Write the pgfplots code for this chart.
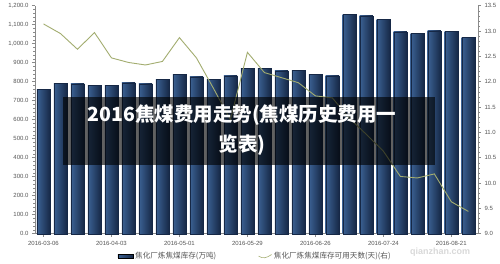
\documentclass[border=0pt]{standalone}
\usepackage{pgfplots}
\pgfplotsset{compat=1.18}
\usepackage{fontspec}
\setmainfont{Liberation Sans}
\newfontfamily\cjk{Noto Sans CJK SC}
\definecolor{barL}{HTML}{3B6193}
\definecolor{barR}{HTML}{162846}
\definecolor{linec}{HTML}{A3AD70}
\definecolor{axc}{HTML}{8A8A8A}
\definecolor{tkc}{HTML}{555555}
\newcommand\B[2]{\addplot[ybar, bar width=0.78, bar shift=0pt, draw=barR, line width=0.2pt, left color=barL, right color=barR, forget plot] coordinates {(#1,#2)};}
\begin{document}
\begin{tikzpicture}[x=1pt,y=1pt]
\useasboundingbox (0pt,0pt) rectangle (500pt,264pt);
\fill[white] (0pt,0pt) rectangle (500pt,264pt);
\begin{axis}[
  at={(35pt,30.3pt)}, anchor=south west,
  scale only axis, width=443pt, height=228pt,
  xmin=-0.5, xmax=25.57, ymin=0, ymax=1200,
  axis y line*=left, axis x line*=bottom,
  axis line style={axc, line width=0.6pt},
  xtick={0,4,...,24}, minor xtick={2,6,...,22},
  xticklabels={2016-03-06,2016-04-03,2016-05-01,2016-05-29,2016-06-26,2016-07-24,2016-08-21},
  ytick={0,100,...,1200}, minor y tick num=4,
  tick align=outside, major tick length=3pt, minor tick length=1.5pt,
  tick style={axc, line width=0.5pt},
  /pgf/number format/assume math mode=true,
  yticklabel style={/pgf/number format/.cd, fixed, fixed zerofill, precision=1, 1000 sep={,}},
  ticklabel style={font=\fontsize{6}{7}\selectfont, text=tkc},
  xticklabel style={yshift=-1pt},
  clip=false,
]
\B{0}{760} \B{1}{791} \B{2}{789} \B{3}{781} \B{4}{781} \B{5}{795} \B{6}{789}
\B{7}{812} \B{8}{840} \B{9}{825} \B{10}{812} \B{11}{830} \B{12}{872} \B{13}{870}
\B{14}{858} \B{15}{860} \B{16}{840} \B{17}{832} \B{18}{1156} \B{19}{1146}
\B{20}{1128} \B{21}{1063} \B{22}{1055} \B{23}{1068} \B{24}{1065} \B{25}{1035}
\end{axis}
\begin{axis}[
  at={(35pt,30.3pt)}, anchor=south west,
  scale only axis, width=443pt, height=228pt,
  xmin=-0.5, xmax=25.57, ymin=9, ymax=13.5,
  axis y line*=right, axis x line=none,
  axis line style={axc, line width=0.6pt},
  ytick={9,9.5,...,13.5}, minor y tick num=4,
  tick align=outside, major tick length=3pt, minor tick length=1.5pt,
  tick style={axc, line width=0.5pt},
  /pgf/number format/assume math mode=true,
  yticklabel style={/pgf/number format/.cd, fixed, fixed zerofill, precision=1},
  ticklabel style={font=\fontsize{6}{7}\selectfont, text=tkc},
  legend columns=2,
  legend style={at={(0.497,-0.098)}, anchor=center, draw=none, fill=none,
    font=\cjk\fontsize{7.6}{8}\selectfont, text=tkc,
    /tikz/every even column/.append style={column sep=40pt}},
  clip=false,
]
\addlegendimage{legend image code/.code={\fill[left color=barL, right color=barR] (0pt,-1.8pt) rectangle (15pt,1.8pt);}}
\addlegendentry{焦化厂炼焦煤库存(万吨)}
\addlegendimage{legend image code/.code={\draw[linec, line width=0.6pt] (0pt,0pt) .. controls (4pt,-3pt) and (8pt,-2pt) .. (13pt,1.5pt);}}
\addlegendentry{焦化厂炼焦煤库存可用天数(天)(右)}
\addplot[linec, line width=0.9pt, mark=none] coordinates {
(0,13.14) (1,12.95) (2,12.64) (3,12.97) (4,12.47) (5,12.38) (6,12.33) (7,12.40) (8,12.87) (9,12.47)
(10,11.87) (11,11.25) (12,12.58) (13,12.18) (14,12.08) (15,11.98) (16,11.72) (17,11.68) (18,11.28) (19,10.96)
(20,10.63) (21,10.13) (22,10.10) (23,10.18) (24,9.63) (25,9.44)};
\end{axis}
\fill[black, opacity=0.62] (63pt,99pt) rectangle (435pt,167pt);
\node[text=white, align=center, font=\cjk\bfseries\fontsize{19.5}{30}\selectfont] at (242pt,134pt) {2016焦煤费用走势(焦煤历史费用一\\览表)};
\node[text=gray, opacity=0.3, font=\fontsize{9}{9}\selectfont\bfseries] at (440pt,12pt) {qianzhan.com};
\end{tikzpicture}
\end{document}
